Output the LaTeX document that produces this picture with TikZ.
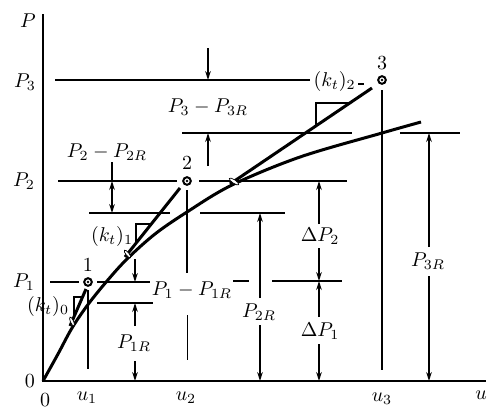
\documentclass[tikz,border=0pt]{standalone}
\usetikzlibrary{arrows.meta}
\begin{document}
\begin{tikzpicture}[x=0.5pt,y=-0.5pt,
  hl/.style={line width=0.65pt},
  ax/.style={line width=1pt},
  crv/.style={line width=1.5pt},
  da/.style={line width=0.65pt,-{Stealth[length=4.5pt,width=2.8pt]}},
  dd/.style={line width=0.65pt,{Stealth[length=4.5pt,width=2.8pt]}-{Stealth[length=4.5pt,width=2.8pt]}},
  lbl/.style={inner sep=0.5pt},
  ptm/.style={circle,draw,line width=1pt,fill=white,minimum size=3.8pt,inner sep=0pt},
  smg/.style={line width=0.35pt,fill=white}
]
\useasboundingbox (0,0) rectangle (493,409);

% axes
\draw[ax] (43,14) -- (43,381) -- (486,381);
\node[lbl] (lP) at (28,21) {$P$};
\node[lbl] (lu) at (481,395) {$u$};
\node[lbl] (l0a) at (30,381) {0};
\node[lbl] (l0b) at (45,400) {0};
\node[lbl] (lu1) at (87,398) {$u_1$};
\node[lbl] (lu2) at (186,398) {$u_2$};
\node[lbl] (lu3) at (382,399) {$u_3$};
\node[lbl] (lP3) at (25,82) {$P_3$};
\node[lbl] (lP2) at (24,181) {$P_2$};
\node[lbl] (lP1) at (24,282) {$P_1$};

% horizontal reference lines
\draw[hl] (55,80) -- (310,80);
\draw[hl] (58,181) -- (177,181);
\draw[hl] (199,181) -- (347,181);
\draw[hl] (50,282) -- (79,282);
\draw[hl] (97,282) -- (150,282);
\draw[hl] (233,281) -- (249,281);
\draw[hl] (272,281) -- (342,281);
\draw[hl] (89,213) -- (170,213);
\draw[hl] (200,213) -- (285,213);
\draw[hl] (97,303) -- (153,303);
\draw[hl] (182,133) -- (352,133);
\draw[hl] (400,133) -- (460,133);

% vertical reference lines
\draw[hl] (88,290) -- (88,369);
\draw[hl] (187,190) -- (187,273);
\draw[line width=0.45pt] (187,315) -- (187,360);
\draw[hl] (382,90) -- (382,370);

% resistance curve
\draw[crv] plot[smooth,tension=0.55] coordinates {(43,381) (58,354) (72,328) (88,304.5) (107,281) (127,259) (155,234) (187,212) (232,185) (300,157) (382,133) (421,122)};

% tangent lines with slope triangles
\draw[crv] (70,326) -- (86,289);
\draw[hl] (74,316.75) -- (74,297) -- (82.5,297);
\draw[smg,rotate around={-66:(72,321.5)}] (72,321.5) ellipse (2.4pt and 0.8pt);

\draw[crv] (125,257) -- (180,188);
\draw[hl] (136,243.2) -- (136,224) -- (151.3,224);
\draw[smg,rotate around={-51:(127.5,254)}] (127.5,254) ellipse (2.4pt and 0.8pt);

\draw[crv] (230,184) -- (372,88);
\draw[hl] (316,125.9) -- (316,103) -- (349.8,103);
\draw[smg,rotate around={-34:(234,181.5)}] (234,181.5) ellipse (2.8pt and 0.9pt);

\node[lbl] (k0) at (48,306) {$(k_t)_0$};
\node[lbl] (k1) at (112,236) {$(k_t)_1$};
\node[lbl,anchor=east] (k2) at (357,81) {$(k_t)_2$};
\draw[hl] (358,84) -- (364,84);

% state points
\node[ptm] (p1) at (88,282) {};
\node[ptm] (p2) at (187,181) {};
\node[ptm] (p3) at (382,80) {};
\fill (p1) circle (0.7pt);
\fill (p2) circle (0.7pt);
\fill (p3) circle (0.7pt);
\node[lbl] (n1) at (88,265) {1};
\node[lbl] (n2) at (187,163) {2};
\node[lbl] (n3) at (382,63) {3};

% P3 - P3R
\draw[da] (208,48) -- (208,80);
\draw[da] (208,166) -- (208,133);
\node[lbl] (d3) at (208,107) {$P_3-P_{3R}$};

% P2 - P2R
\draw[hl] (112,162) -- (112,181);
\draw[dd] (112,181) -- (112,213);
\node[lbl] (d2) at (107,152) {$P_2-P_{2R}$};

% P1 - P1R
\draw[da] (135,259) -- (135,282);
\node[lbl] (d1) at (192,290) {$P_1-P_{1R}$};

% P1R
\draw[da] (135,326) -- (135,303);
\draw[da] (135,361) -- (135,381);
\node[lbl] (r1) at (134,343) {$P_{1R}$};

% P2R
\draw[da] (260,298) -- (260,213);
\draw[da] (260,325) -- (260,381);
\node[lbl] (r2) at (259,312) {$P_{2R}$};

% Delta P2
\draw[da] (319,224) -- (319,181);
\draw[da] (319,248) -- (319,281);
\node[lbl] (dp2) at (320,236) {$\Delta P_2$};

% Delta P1
\draw[da] (319,317) -- (319,281);
\draw[da] (319,344) -- (319,381);
\node[lbl] (dp1) at (320,331) {$\Delta P_1$};

% P3R
\draw[da] (429,247) -- (429,133);
\draw[da] (429,276) -- (429,381);
\node[lbl] (r3) at (428,261) {$P_{3R}$};
\end{tikzpicture}
\end{document}
